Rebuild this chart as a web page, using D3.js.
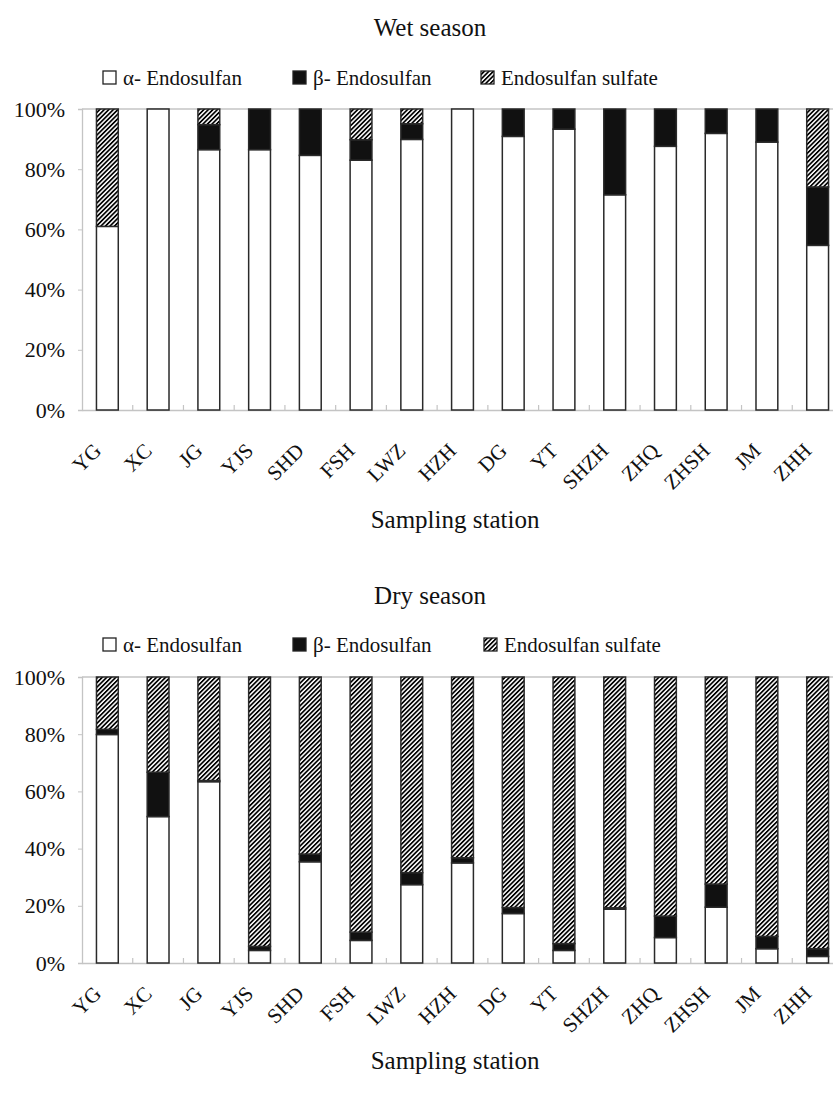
<!DOCTYPE html>
<html>
<head>
<meta charset="utf-8">
<script src="https://cdn.jsdelivr.net/npm/d3@7"></script>
<style>
  body { margin: 0; background: #fff; }
  svg text { font-family: "Liberation Serif", "Times New Roman", serif !important; fill: #111; }
</style>
</head>
<body>
<script>
// sampling stations (x categories)
var stations = ["YG", "XC", "JG", "YJS", "SHD", "FSH", "LWZ", "HZH", "DG", "YT", "SHZH", "ZHQ", "ZHSH", "JM", "ZHH"];
var seriesNames = ["α- Endosulfan", "β- Endosulfan", "Endosulfan sulfate"];
var yTicks = [0, 20, 40, 60, 80, 100];

// wet season composition (%)
var wetAlpha   = [61.0, 100, 86.5, 86.5, 84.6, 83.0, 89.9, 100, 90.9, 93.3, 71.5, 87.6, 91.9, 89.0, 54.7];
var wetBeta    = [0, 0, 8.3, 13.5, 15.4, 6.8, 5.2, 0, 9.1, 6.7, 28.5, 12.4, 8.1, 11.0, 19.4];
var wetSulfate = [39.0, 0, 5.2, 0, 0, 10.2, 4.9, 0, 0, 0, 0, 0, 0, 0, 25.9];

// dry season composition (%)
var dryAlpha   = [79.9, 51.2, 63.4, 4.4, 35.4, 7.9, 27.4, 35.0, 17.3, 4.4, 18.8, 8.9, 19.5, 5.0, 2.3];
var dryBeta    = [1.8, 15.5, 0.4, 1.4, 2.7, 2.9, 4.2, 1.8, 2.1, 2.4, 0.5, 7.5, 8.1, 4.3, 2.7];
var drySulfate = [18.3, 33.3, 36.2, 94.2, 61.9, 89.2, 68.4, 63.2, 80.6, 93.2, 80.7, 83.6, 72.4, 90.7, 95.0];

var width = 833;
var height = 1099;
var serif = "Liberation Serif";

var svg = d3.select("body")
  .append("svg")
  .attr("width", width)
  .attr("height", height);

var defs = svg.append("defs");
var hatch = defs.append("pattern")
  .attr("id", "hatch")
  .attr("patternUnits", "userSpaceOnUse")
  .attr("width", 3.2)
  .attr("height", 3.2)
  .attr("patternTransform", "rotate(45)");
hatch.append("rect").attr("width", 3.2).attr("height", 3.2).attr("fill", "#fff");
hatch.append("rect").attr("width", 1.7).attr("height", 3.2).attr("fill", "#000");

var fills = ["#fff", "#111", "url(#hatch)"];
var keys = ["alpha", "beta", "sulfate"];

function drawChart(cfg) {
  var rows = stations.map(function(s, i) {
    return { station: s, alpha: cfg.alpha[i], beta: cfg.beta[i], sulfate: cfg.sulfate[i] };
  });
  var stacked = d3.stack().keys(keys)(rows);

  var x = d3.scaleBand()
    .domain(stations)
    .range([82, 843])
    .paddingInner(0.57)
    .paddingOuter(0.285);

  var y = d3.scaleLinear()
    .domain([0, 100])
    .range([cfg.bottom, cfg.top]);

  var g = svg.append("g");

  // title
  g.append("text")
    .attr("x", 430)
    .attr("y", cfg.titleY)
    .attr("text-anchor", "middle")
    .style("font-family", serif)
    .style("font-size", "25px")
    .text(cfg.title);

  // legend
  var leg = g.selectAll(".leg")
    .data(seriesNames)
    .enter().append("g")
    .attr("transform", function(d, i) { return "translate(" + cfg.legendX[i] + "," + cfg.legendY + ")"; });
  leg.append("rect")
    .attr("x", 0).attr("y", -7)
    .attr("width", 13).attr("height", 13)
    .attr("fill", function(d, i) { return fills[i]; })
    .attr("stroke", "#222")
    .attr("stroke-width", 1.3);
  leg.append("text")
    .attr("x", 20)
    .attr("y", 7)
    .style("font-family", serif)
    .style("font-size", "21px")
    .text(function(d) { return d; });

  // top border of the plot area
  g.append("line")
    .attr("x1", 82).attr("x2", 843)
    .attr("y1", y(100)).attr("y2", y(100))
    .attr("stroke", "#c4c4c4")
    .attr("stroke-width", 1.3);

  // y axis
  var yAxis = g.append("g")
    .attr("transform", "translate(82,0)")
    .call(d3.axisLeft(y).tickValues(yTicks).tickFormat(function(d) { return d + "%"; }).tickSize(4).tickPadding(13));
  yAxis.select(".domain").attr("stroke", "#c4c4c4").attr("stroke-width", 1.3);
  yAxis.selectAll(".tick line").attr("stroke", "#c4c4c4");
  yAxis.selectAll(".tick text")
    .style("font-size", "22px")
    .style("font-family", serif)
    .attr("fill", "#111");

  // x axis line with ticks at category boundaries
  var xAxis = g.append("g")
    .attr("transform", "translate(0," + cfg.bottom + ")")
    .call(d3.axisBottom(x).tickSize(0).tickFormat(""));
  xAxis.select(".domain").attr("stroke", "#c4c4c4").attr("stroke-width", 1.3);
  g.selectAll(".xtick")
    .data(stations.slice(1))
    .enter().append("line")
    .attr("x1", function(d) { return x(d) - x.step() * 0.57 / 2; })
    .attr("x2", function(d) { return x(d) - x.step() * 0.57 / 2; })
    .attr("y1", cfg.bottom)
    .attr("y2", cfg.bottom - 5)
    .attr("stroke", "#c4c4c4")
    .attr("stroke-width", 1.2);

  // bars
  g.selectAll(".series")
    .data(stacked)
    .enter().append("g")
    .attr("fill", function(d, i) { return fills[i]; })
    .selectAll("rect")
    .data(function(d) { return d.filter(function(p) { return p[1] - p[0] > 0; }); })
    .enter().append("rect")
    .attr("x", function(d) { return x(d.data.station); })
    .attr("width", x.bandwidth())
    .attr("y", function(d) { return y(d[1]); })
    .attr("height", function(d) { return y(d[0]) - y(d[1]); })
    .attr("stroke", "#2a2a2a")
    .attr("stroke-width", 1.5);

  // station labels
  g.selectAll(".xlab")
    .data(stations)
    .enter().append("text")
    .attr("text-anchor", "end")
    .style("font-family", serif)
    .style("font-size", "21px")
    .attr("transform", function(d) {
      return "translate(" + (x(d) + x.bandwidth() / 2 - 5) + "," + cfg.labelY + ") rotate(-45)";
    })
    .text(function(d) { return d; });

  // axis title
  g.append("text")
    .attr("x", 455)
    .attr("y", cfg.axisTitleY)
    .attr("text-anchor", "middle")
    .style("font-family", serif)
    .style("font-size", "25px")
    .text("Sampling station");
}

drawChart({
  title: "Wet season",
  alpha: wetAlpha, beta: wetBeta, sulfate: wetSulfate,
  top: 109, bottom: 410,
  titleY: 36, legendY: 78, legendX: [103, 293, 481],
  labelY: 452, axisTitleY: 528
});

drawChart({
  title: "Dry season",
  alpha: dryAlpha, beta: dryBeta, sulfate: drySulfate,
  top: 677, bottom: 963,
  titleY: 604, legendY: 645, legendX: [103, 293, 484],
  labelY: 995, axisTitleY: 1069
});
</script>
</body>
</html>
